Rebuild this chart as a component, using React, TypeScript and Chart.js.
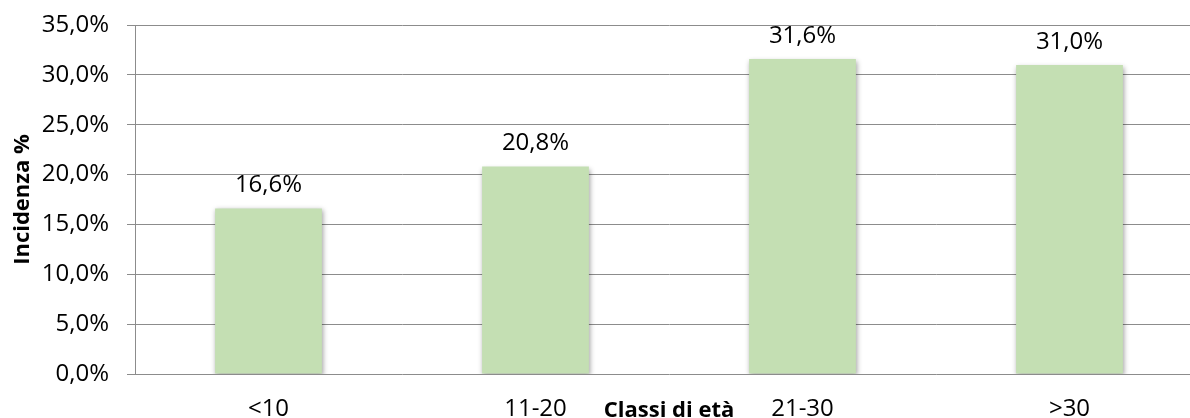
import { useEffect, useRef } from "react";
import { Chart, registerables } from "chart.js";

Chart.register(...registerables);

const categories = ["<10", "11-20", "21-30", ">30"];
const incidence = [16.6, 20.8, 31.6, 31.0];
const yMin = 0;
const yMax = 35;
const yStep = 5;
const xTitle = "Classi di età";
const yTitle = "Incidenza %";

const CANVAS_W = 1210;
const CANVAS_H = 440;
const FONT = "'Open Sans', 'DejaVu Sans', sans-serif";

const fmt = (v: number) => v.toFixed(1).replace(".", ",") + "%";

const shadowPlugin = {
  id: "barShadow",
  beforeDatasetDraw(chart: any) {
    const ctx = chart.ctx;
    ctx.save();
    ctx.shadowColor = "rgba(0,0,0,0.38)";
    ctx.shadowBlur = 5;
    ctx.shadowOffsetX = 1;
    ctx.shadowOffsetY = 2;
  },
  afterDatasetDraw(chart: any) {
    chart.ctx.restore();
  },
};

const valueLabelPlugin = {
  id: "valueLabels",
  afterDatasetsDraw(chart: any) {
    const ctx = chart.ctx;
    const meta = chart.getDatasetMeta(0);
    const data = chart.data.datasets[0].data as number[];
    ctx.save();
    ctx.font = `24px ${FONT}`;
    ctx.fillStyle = "#000000";
    ctx.textAlign = "center";
    ctx.textBaseline = "middle";
    meta.data.forEach((bar: any, i: number) => {
      ctx.fillText(fmt(data[i]), bar.x, bar.y - 23);
    });
    ctx.restore();
  },
};

export default function App() {
  const ref = useRef<HTMLCanvasElement | null>(null);

  useEffect(() => {
    if (!ref.current) return;
    const chart = new Chart(ref.current, {
      type: "bar",
      data: {
        labels: categories,
        datasets: [
          {
            data: incidence,
            backgroundColor: "#c4dfb3",
            borderWidth: 0,
            barPercentage: 0.4,
            categoryPercentage: 1,
          },
        ],
      },
      options: {
        responsive: false,
        animation: false,
        devicePixelRatio: 1,
        layout: { padding: { top: 25, right: 7, left: 0, bottom: 0 } },
        plugins: {
          legend: { display: false },
          tooltip: { enabled: false },
        },
        scales: {
          x: {
            grid: { display: false, drawTicks: false },
            border: { display: false },
            ticks: {
              color: "#000000",
              font: { family: FONT, size: 24 },
              padding: 21,
            },
            title: {
              display: true,
              text: xTitle,
              color: "#000000",
              font: { family: FONT, size: 22, weight: "bold" },
              padding: { top: 0, bottom: 16 },
            },
            afterFit(scale: any) {
              scale.height = CANVAS_H - 374;
              scale.paddingLeft = 0;
              scale.paddingRight = 0;
            },
          },
          y: {
            min: yMin,
            max: yMax,
            ticks: {
              stepSize: yStep,
              color: "#000000",
              font: { family: FONT, size: 24 },
              padding: 18,
              callback: (v: any) => fmt(Number(v)),
            },
            grid: {
              color: "#8c8c8c",
              lineWidth: 1,
              tickLength: 8,
              drawTicks: true,
            },
            border: { display: true, color: "#8c8c8c", width: 1 },
            title: {
              display: true,
              text: yTitle,
              color: "#000000",
              font: { family: FONT, size: 22, weight: "bold" },
              padding: { top: 10, bottom: 0 },
            },
            afterFit(scale: any) {
              scale.width = 135;
              scale.paddingTop = 0;
              scale.paddingBottom = 0;
            },
          },
        },
      },
      plugins: [shadowPlugin, valueLabelPlugin],
    });
    return () => chart.destroy();
  }, []);

  return (
    <div
      style={{
        position: "fixed",
        left: 0,
        top: 0,
        width: 1190,
        height: 418,
        overflow: "hidden",
        background: "#ffffff",
      }}
    >
      <canvas
        ref={ref}
        width={CANVAS_W}
        height={CANVAS_H}
        style={{ display: "block", width: CANVAS_W, height: CANVAS_H }}
      />
    </div>
  );
}
